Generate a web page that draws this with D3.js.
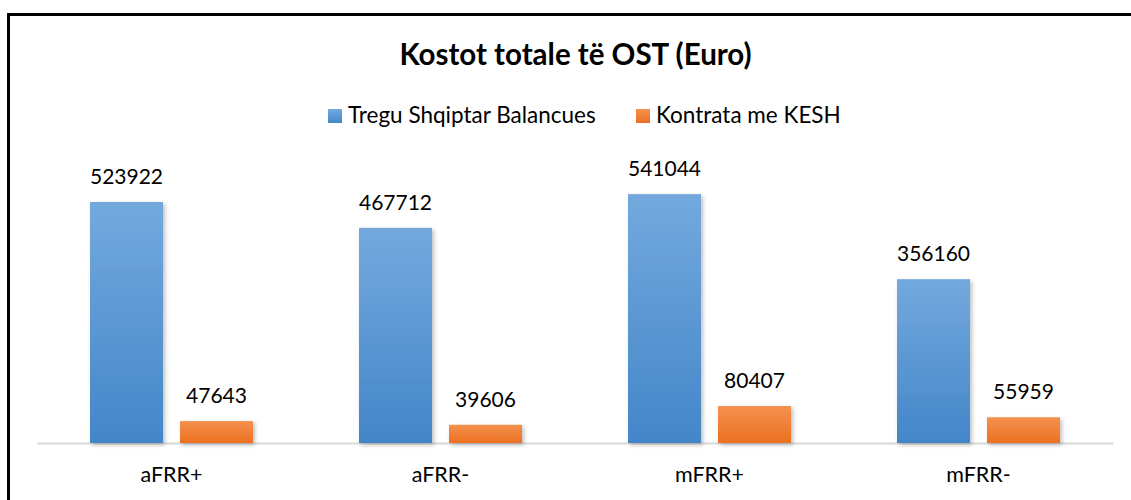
<!DOCTYPE html>
<html><head><meta charset="utf-8">
<script src="https://cdn.jsdelivr.net/npm/d3@7"></script>
<style>body{margin:0;background:#fff}svg{display:block}</style>
</head><body>
<script>
const categories = ["aFRR+", "aFRR-", "mFRR+", "mFRR-"];
const seriesNames = ["Tregu Shqiptar Balancues", "Kontrata me KESH"];
const tregu = [523922, 467712, 541044, 356160];
const kesh = [47643, 39606, 80407, 55959];
const title = "Kostot totale të OST (Euro)";

const W = 1131, H = 500;
const svg = d3.select("body").append("svg").attr("width", W).attr("height", H);
const defs = svg.append("defs");
function grad(id, c1, c2){
  const g = defs.append("linearGradient").attr("id", id).attr("x1",0).attr("y1",0).attr("x2",0).attr("y2",1);
  g.append("stop").attr("offset","0%").attr("stop-color",c1);
  g.append("stop").attr("offset","100%").attr("stop-color",c2);
}
grad("gBlue", "#74a9de", "#4386c9");
grad("gOrange", "#f4914f", "#ec7021");
const f = defs.append("filter").attr("id","shadow").attr("x","-20%").attr("y","-20%").attr("width","150%").attr("height","150%");
f.append("feDropShadow").attr("dx",2).attr("dy",2).attr("stdDeviation",2).attr("flood-color","#000").attr("flood-opacity",0.25);

// border
svg.append("rect").attr("x",8.5).attr("y",14.5).attr("width",1140).attr("height",500)
  .attr("fill","#fff").attr("stroke","#000").attr("stroke-width",3);

const font = "Lato, 'Open Sans', sans-serif";
const x0 = d3.scaleBand().domain(categories).range([37, 1113]).paddingInner(0).paddingOuter(0);
const x1 = d3.scaleBand().domain(seriesNames).range([x0.bandwidth()/2 - 81.5, x0.bandwidth()/2 + 81.5]).paddingInner(17/90).paddingOuter(0);
const y = d3.scaleLinear().domain([0, 600000]).range([443, 167]);

svg.append("text").attr("x", 575.5).attr("y", 65).attr("text-anchor","middle")
  .attr("font-family", font).attr("font-weight","bold").attr("font-size", 29.5).attr("fill","#000").text(title);

// legend
const legendItems = [
  {name: seriesNames[0], fill: "url(#gBlue)", x: 328},
  {name: seriesNames[1], fill: "url(#gOrange)", x: 636}
];
legendItems.forEach(d => {
  svg.append("rect").attr("x", d.x).attr("y", 109).attr("width", 14).attr("height", 14).attr("fill", d.fill);
  svg.append("text").attr("x", d.x + 20).attr("y", 123).attr("font-family", font).attr("font-size", 22.5)
    .attr("fill","#000").text(d.name);
});

// axis
const axis = d3.axisBottom(x0).tickSize(0).tickPadding(0);
const ax = svg.append("g").attr("transform","translate(0,443)").call(axis);
ax.select(".domain").attr("stroke","#d9d9d9").attr("stroke-width",2);
ax.selectAll("text").attr("font-family", font).attr("font-size", 21.5).attr("fill","#000").attr("dy", null).attr("y", 39);

const rows = categories.map((c,i) => ({cat: c, vals: [
  {s: seriesNames[0], v: tregu[i], fill: "url(#gBlue)"},
  {s: seriesNames[1], v: kesh[i], fill: "url(#gOrange)"}
]}));
const g = svg.append("g").selectAll("g").data(rows).join("g")
  .attr("transform", d => `translate(${x0(d.cat)},0)`);
g.selectAll("rect").data(d => d.vals).join("rect")
  .attr("x", d => x1(d.s)).attr("width", x1.bandwidth())
  .attr("y", d => y(d.v)).attr("height", d => y(0) - y(d.v))
  .attr("fill", d => d.fill).attr("filter","url(#shadow)");
g.selectAll("text").data(d => d.vals).join("text")
  .attr("x", d => x1(d.s) + x1.bandwidth()/2).attr("y", d => y(d.v) - 18)
  .attr("text-anchor","middle").attr("font-family", font).attr("font-size", 21).attr("fill","#000")
  .text(d => d.v);
</script>
</body></html>
